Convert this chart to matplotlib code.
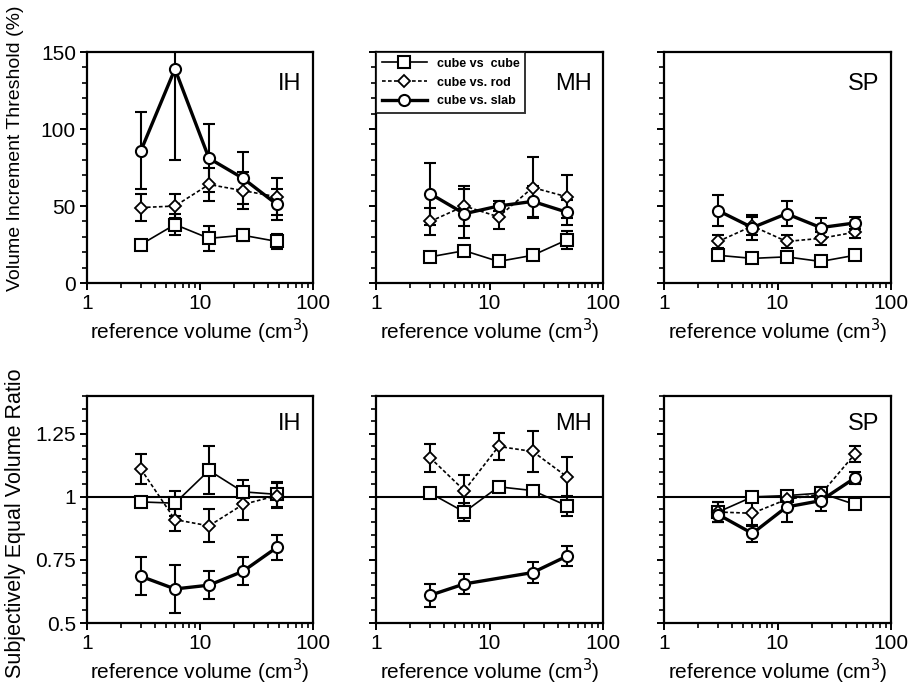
import numpy as np
import matplotlib
matplotlib.use("Agg")
import matplotlib.pyplot as plt
from matplotlib.ticker import FixedLocator, LogLocator, MultipleLocator, NullFormatter

plt.rcParams['font.family'] = ['Liberation Sans', 'DejaVu Sans']

vol = [3, 6, 12, 24, 48]
subjects = ["IH", "MH", "SP"]
labels = ["cube vs  cube", "cube vs. rod", "cube vs. slab"]

# volume increment threshold (%), top row
thr_ih_cube = [25, 38, 29, 31, 27]
thr_ih_cube_err = [3, 7, 8, 4, 5]
thr_ih_rod = [49, 50, 64, 60, 56]
thr_ih_rod_err = [9, 8, 11, 12, 12]
thr_ih_slab = [86, 139, 81, 68, 51]
thr_ih_slab_err = [25, 59, 22, 17, 10]

thr_mh_cube = [17, 21, 14, 18, 28]
thr_mh_cube_err = [2, 2, 2, 2, 6]
thr_mh_rod = [40, 50, 43, 62, 56]
thr_mh_rod_err = [9, 13, 8, 20, 14]
thr_mh_slab = [58, 45, 50, 53, 46]
thr_mh_slab_err = [20, 16, 3, 10, 8]

thr_sp_cube = [18, 16, 17, 14, 18]
thr_sp_cube_err = [1, 1, 1, 1, 1]
thr_sp_rod = [27, 37, 27, 29, 33]
thr_sp_rod_err = [4, 6, 4, 4, 4]
thr_sp_slab = [47, 36, 45, 36, 39]
thr_sp_slab_err = [10, 8, 8, 6, 4]

# subjectively equal volume ratio, bottom row
ser_ih_cube = [0.98, 0.975, 1.105, 1.02, 1.01]
ser_ih_cube_err = [0.02, 0.05, 0.095, 0.045, 0.05]
ser_ih_rod = [1.11, 0.91, 0.885, 0.97, 1.005]
ser_ih_rod_err = [0.06, 0.045, 0.065, 0.06, 0.05]
ser_ih_slab = [0.685, 0.635, 0.65, 0.705, 0.80]
ser_ih_slab_err = [0.075, 0.095, 0.055, 0.055, 0.05]

ser_mh_cube = [1.015, 0.94, 1.04, 1.025, 0.965]
ser_mh_cube_err = [0.015, 0.035, 0.01, 0.01, 0.04]
ser_mh_rod = [1.155, 1.025, 1.2, 1.18, 1.08]
ser_mh_rod_err = [0.055, 0.06, 0.055, 0.08, 0.08]
ser_mh_slab = [0.61, 0.655, np.nan, 0.70, 0.765]
ser_mh_slab_err = [0.045, 0.04, np.nan, 0.04, 0.04]

ser_sp_cube = [0.94, 1.0, 1.005, 1.015, 0.97]
ser_sp_cube_err = [0.04, 0.01, 0.01, 0.01, 0.01]
ser_sp_rod = [0.94, 0.935, 0.99, 1.01, 1.17]
ser_sp_rod_err = [0.04, 0.05, 0.03, 0.03, 0.03]
ser_sp_slab = [0.93, 0.855, 0.96, 0.985, 1.075]
ser_sp_slab_err = [0.03, 0.035, 0.06, 0.04, 0.025]

top = [
    [(thr_ih_cube, thr_ih_cube_err), (thr_ih_rod, thr_ih_rod_err), (thr_ih_slab, thr_ih_slab_err)],
    [(thr_mh_cube, thr_mh_cube_err), (thr_mh_rod, thr_mh_rod_err), (thr_mh_slab, thr_mh_slab_err)],
    [(thr_sp_cube, thr_sp_cube_err), (thr_sp_rod, thr_sp_rod_err), (thr_sp_slab, thr_sp_slab_err)],
]
bottom = [
    [(ser_ih_cube, ser_ih_cube_err), (ser_ih_rod, ser_ih_rod_err), (ser_ih_slab, ser_ih_slab_err)],
    [(ser_mh_cube, ser_mh_cube_err), (ser_mh_rod, ser_mh_rod_err), (ser_mh_slab, ser_mh_slab_err)],
    [(ser_sp_cube, ser_sp_cube_err), (ser_sp_rod, ser_sp_rod_err), (ser_sp_slab, ser_sp_slab_err)],
]

styles = [
    dict(ls='-', lw=1.2, marker='s', ms=9, mew=1.5),
    dict(ls=(0, (2.2, 1.4)), lw=1.2, marker='D', ms=6.5, mew=1.3),
    dict(ls='-', lw=2.4, marker='o', ms=8, mew=1.5),
]

fig = plt.figure(figsize=(9.14, 6.93), dpi=100)

lefts = [0.0952, 0.4114, 0.7265]
widths = [0.2473, 0.2484, 0.2484]


def draw(ax, series):
    lines = []
    for (y, e), st in zip(series, styles):
        y = np.array(y, dtype=float)
        e = np.array(e, dtype=float)
        x = np.array(vol, dtype=float)
        ok = ~np.isnan(y)
        ax.errorbar(x[ok], y[ok], yerr=e[ok], fmt='none', ecolor='k',
                    elinewidth=1.5, capsize=4, capthick=1.5, zorder=2)
        ln, = ax.plot(x[ok], y[ok], color='k', mfc='white', mec='k',
                      zorder=3, **st)
        lines.append(ln)
    return lines


def style_axes(ax, first):
    ax.set_xscale('log')
    ax.set_xlim(1, 100)
    ax.xaxis.set_major_locator(FixedLocator([1, 10, 100]))
    ax.set_xticklabels(['1', '10', '100'])
    ax.xaxis.set_minor_locator(LogLocator(base=10, subs=np.arange(2, 10)))
    ax.xaxis.set_minor_formatter(NullFormatter())
    for s in ax.spines.values():
        s.set_linewidth(1.6)
    ax.tick_params(which='major', direction='out', length=5, width=1.4,
                   labelsize=15, pad=3)
    ax.tick_params(which='minor', direction='out', length=3.5, width=1.2)
    ax.tick_params(axis='y', labelleft=first)
    ax.set_xlabel('reference volume (cm$^3$)', fontsize=15, labelpad=3)


for i in range(3):
    ax = fig.add_axes([lefts[i], 0.5916, widths[i], 0.3333])
    lines = draw(ax, top[i])
    style_axes(ax, i == 0)
    ax.set_ylim(0, 150)
    ax.yaxis.set_major_locator(FixedLocator([0, 50, 100, 150]))
    ax.yaxis.set_minor_locator(MultipleLocator(10))
    ax.text(0.95, 0.86, subjects[i], transform=ax.transAxes, ha='right',
            va='center', fontsize=17)
    if i == 1:
        leg = ax.legend(lines, labels, loc='upper left', borderaxespad=0,
                        fancybox=False, handlelength=3.6, labelspacing=0.55,
                        handletextpad=0.8, borderpad=0.45,
                        prop=dict(size=9, weight='bold'))
        leg.get_frame().set_edgecolor('k')
        leg.get_frame().set_linewidth(1.4)

for i in range(3):
    ax = fig.add_axes([lefts[i], 0.101, widths[i], 0.3276])
    ax.axhline(1, color='k', lw=1.5, zorder=1)
    draw(ax, bottom[i])
    style_axes(ax, i == 0)
    ax.set_ylim(0.5, 1.4)
    ax.yaxis.set_major_locator(FixedLocator([0.5, 0.75, 1, 1.25]))
    ax.set_yticklabels(['0.5', '0.75', '1', '1.25'])
    ax.yaxis.set_minor_locator(MultipleLocator(0.05))
    ax.text(0.95, 0.875, subjects[i], transform=ax.transAxes, ha='right',
            va='center', fontsize=17)

fig.text(0.017, 0.786, 'Volume Increment Threshold (%)', rotation=90,
         ha='center', va='center', fontsize=14)
fig.text(0.017, 0.245, 'Subjectively Equal Volume Ratio', rotation=90,
         ha='center', va='center', fontsize=15.5)

fig.savefig('out.png', dpi=100)
